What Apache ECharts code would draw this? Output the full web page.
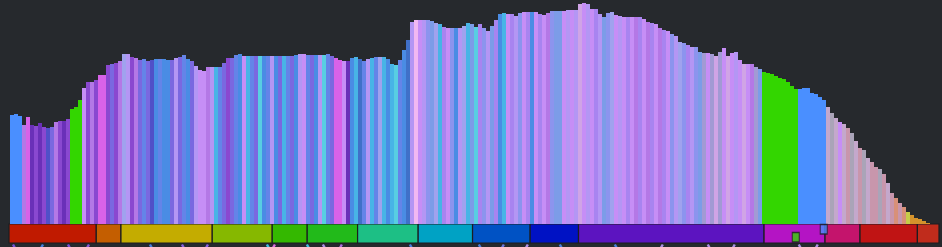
<!DOCTYPE html>
<html>
<head>
<meta charset="utf-8">
<script src="https://cdn.jsdelivr.net/npm/echarts@6/dist/echarts.min.js"></script>
<style>
html,body{margin:0;padding:0;background:#26292d;}
#c{width:942px;height:247px;}
</style>
</head>
<body>
<div id="c"></div>
<script>
// bar heights (one per bar, left to right)
const barValues = [
 109,110,108,99,107,99,98,101,97,96,
 97,102,103,103,105,115,117,124,136,142,
 142,144,149,149,159,160,161,163,170,170,
 167,166,164,165,163,164,165,165,165,164,
 164,166,167,169,165,163,158,154,153,157,
 157,157,157,161,166,166,169,170,168,168,
 168,168,168,168,168,168,168,168,168,168,
 168,169,170,170,169,169,169,169,169,170,
 168,166,164,163,163,166,167,165,163,165,
 166,167,167,167,165,160,159,164,174,184,
 202,204,204,204,204,203,201,200,197,196,
 196,196,196,198,201,200,197,200,196,193,
 198,204,210,211,210,210,208,211,212,212,
 212,212,210,209,211,213,213,213,213,214,
 214,214,220,221,220,215,215,210,207,211,
 212,209,208,207,207,207,207,207,205,202,
 201,200,196,194,193,190,188,182,181,179,
 177,177,172,171,171,170,168,172,176,168,
 171,172,164,160,160,160,157,155,152,151,
 150,148,146,145,142,138,135,135,136,136,
 131,130,127,124,117,111,106,102,100,96,
 91,83,76,74,66,62,57,55,50,41,
 31,26,21,17,12,9,6,5,3,1
];
// colour code per bar
const barColorCodes = [
 'aaanmdpdpe','vnpdpgggkp','npmmpvpnhl','pnvwvebwbb','vlvwbvlkkn',
 'lcwvpvwbkc','wvtbwlbvcw','vblkwvbltw','vmmkdbcxwl','cwhcbctwbx',
 'lrkljfhcik','jblhcftijl','fibckiljki','bkiknjffkl','klPklkilfj',
 'hklkiknikn','iknikjlhji','ljfAkAPAkP','klkPknAfgg','gggggggaaa',
 'aaaaquqkqs','uqsuqssusq','sosoyzzzzz'
].join('');
const palette = {
 a:'#4a8fff', g:'#33d600', p:'#8a48d0', d:'#6a30b8', m:'#d862e8', n:'#b478e6',
 v:'#7a68e0', w:'#6484e8', b:'#4a8ce4', c:'#48b4e6', t:'#58cee2', l:'#b496f4',
 k:'#c68ef6', h:'#a0a2ee', r:'#f2b8f2', e:'#5050c8', x:'#4070c8',
 i:'#a884f0', j:'#8c94ee', f:'#7c9ce8', A:'#a29ad4', P:'#d0a4e6',
 q:'#c4a8cc', s:'#c896ac', u:'#aaa4b8', o:'#d89078', y:'#c6cc48', z:'#d4922c'
};
const categories = barValues.map((v, i) => 'bin' + (i + 1));

// bottom strip segments
const segStarts = [0, 87.3, 112, 203.3, 263.3, 298.3, 348.7, 409.3, 463.7, 521.3, 569.7, 755.3, 816.3, 851.3, 908.7];
const segEnds   = [87.3, 112, 203.3, 263.3, 298.3, 348.7, 409.3, 463.7, 521.3, 569.7, 755.3, 816.3, 851.3, 908.7, 930.3];
const segColors = ['#c01a00','#c45e00','#c4ac00','#86b800','#34b800','#22ba1a','#1dbf85','#00a2c4','#0052c4','#0012c4','#5c14c0','#b414c4','#c4146c','#c01414','#c02c1c'];

// markers on the strip
const markerPos = [787, 815];
const markerLevel = [0.3, 0.72];
const markerColors = ['#33d600', '#4a8fff'];

// short link strokes below the strip
const linkPos = [4, 34, 59, 80, 141, 173, 199, 258, 266, 298, 314, 333, 401, 470, 495, 519, 551, 606, 654, 699, 726, 790, 809];
const linkDir = [1, -1, 1, -1, 1, 1, -1, 1, -1, 1, 1, -1, 1, 1, -1, -1, 1, 1, -1, 1, -1, 1, -1];
const linkColors = ['#7a50d8','#4a80e0','#7a50d8','#8a58d8','#4a80e0','#8a60e0','#8a60e0','#40c0e0','#e070e0','#40c0e0','#b090e8','#b070e0','#4a80e0','#4a80e0','#6a78e0','#b090e8','#4a80e0','#4a80e0','#b090e8','#b090e8','#b090e8','#b090e8','#b090e8'];

const chart = echarts.init(document.getElementById('c'), null, {renderer:'canvas'});
chart.setOption({
  backgroundColor: '#26292d',
  animation: false,
  grid: [
    {left: 10, right: 12, top: 0, height: 224},
    {left: 9, right: 3, top: 224, height: 19}
  ],
  xAxis: [
    {type:'category', gridIndex:0, data: categories, show:false, boundaryGap:true},
    {type:'value', gridIndex:1, min:0, max:930.3, show:false}
  ],
  yAxis: [
    {type:'value', gridIndex:0, min:0, max:224, show:false},
    {type:'value', gridIndex:1, min:0, max:1, show:false}
  ],
  series: [
    {
      type:'bar', xAxisIndex:0, yAxisIndex:0,
      barCategoryGap:'0%', barGap:'0%',
      data: barValues.map((v, i) => ({value: v, itemStyle: {color: palette[barColorCodes[i]] || '#a0a0f0'}})),
      silent: true
    },
    {
      type:'custom', xAxisIndex:1, yAxisIndex:1, silent:true,
      renderItem: function(params, api) {
        const s = api.coord([api.value(0), 1]);
        const e = api.coord([api.value(1), 0]);
        return {type:'rect', shape:{x:s[0], y:s[1], width:e[0]-s[0], height:e[1]-s[1]},
          style:{fill: api.visual('color'), stroke:'#1c1d20', lineWidth:1.2}};
      },
      data: segStarts.map((s, i) => ({value:[s, segEnds[i]], itemStyle:{color: segColors[i]}}))
    },
    {
      type:'scatter', xAxisIndex:1, yAxisIndex:1, silent:true,
      symbol:'rect', symbolSize:[7, 9.5],
      data: markerPos.map((p, i) => ({value:[p, markerLevel[i]], itemStyle:{color: markerColors[i], borderColor:'#1c1d20', borderWidth:1.2}}))
    },
    {
      type:'custom', xAxisIndex:1, yAxisIndex:1, silent:true, clip:false,
      renderItem: function(params, api) {
        const p = api.coord([api.value(0), 0]);
        const d = api.value(1);
        return {type:'line', shape:{x1:p[0], y1:p[1]+1.5, x2:p[0]+d*2.5, y2:p[1]+6},
          style:{stroke: api.visual('color'), lineWidth:2.4}};
      },
      data: linkPos.map((p, i) => ({value:[p, linkDir[i]], itemStyle:{color: linkColors[i]}}))
    }
  ]
});
</script>
</body>
</html>
